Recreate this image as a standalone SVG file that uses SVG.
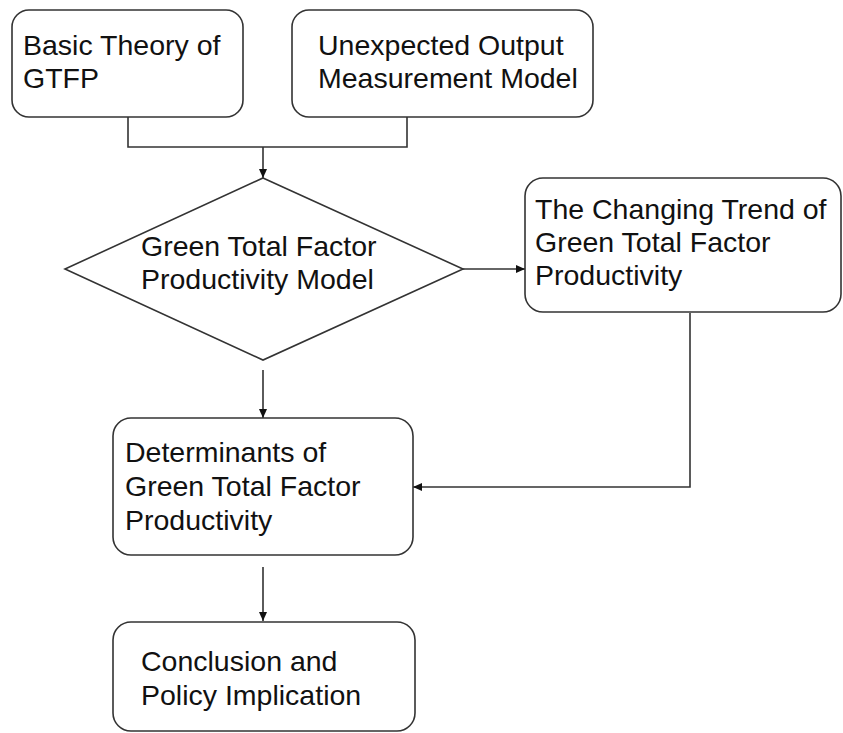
<svg xmlns="http://www.w3.org/2000/svg" width="843" height="733" viewBox="0 0 843 733">
<style>
.box{fill:#fff;stroke:#333;stroke-width:1.6}
.t{font-family:"Liberation Sans",Arial,sans-serif;font-size:28.5px;fill:#111}
.c{fill:none;stroke:#333;stroke-width:1.6}
</style>
<defs>
<marker id="ah" markerUnits="userSpaceOnUse" markerWidth="10" markerHeight="10" refX="9" refY="5" orient="auto">
<path d="M0,1 L9,5 L0,9 z" fill="#111"/>
</marker>
</defs>
<rect width="843" height="733" fill="#fff"/>
<g id="connectors">
<path class="c" d="M128,117 V147 H407 V117"/>
<path class="c" d="M263,147 V178" marker-end="url(#ah)"/>
<path class="c" d="M463,269 H525" marker-end="url(#ah)"/>
<path class="c" d="M263,370 V418" marker-end="url(#ah)"/>
<path class="c" d="M690,313 V487 H413" marker-end="url(#ah)"/>
<path class="c" d="M263,567 V621" marker-end="url(#ah)"/>
</g>
<g id="basic-theory">
<rect class="box" x="12" y="10" width="231" height="107" rx="17"/>
<text class="t" x="23" y="55">Basic Theory of</text>
<text class="t" x="23" y="88">GTFP</text>
</g>
<g id="unexpected-output">
<rect class="box" x="292" y="10" width="301" height="107" rx="17"/>
<text class="t" x="318" y="55">Unexpected Output</text>
<text class="t" x="318" y="88">Measurement Model</text>
</g>
<g id="gtfp-model">
<polygon class="box" points="263,178 463,269 263,360 65,269"/>
<text class="t" x="141" y="256">Green Total Factor</text>
<text class="t" x="141" y="289">Productivity Model</text>
</g>
<g id="changing-trend">
<rect class="box" x="525" y="178" width="316" height="134" rx="18"/>
<text class="t" x="535" y="219">The Changing Trend of</text>
<text class="t" x="535" y="252">Green Total Factor</text>
<text class="t" x="535" y="285">Productivity</text>
</g>
<g id="determinants">
<rect class="box" x="113" y="418" width="300" height="137" rx="18"/>
<text class="t" x="125" y="462">Determinants of</text>
<text class="t" x="125" y="496">Green Total Factor</text>
<text class="t" x="125" y="530">Productivity</text>
</g>
<g id="conclusion">
<rect class="box" x="113" y="622" width="302" height="109" rx="18"/>
<text class="t" x="141" y="671">Conclusion and</text>
<text class="t" x="141" y="705">Policy Implication</text>
</g>
</svg>
